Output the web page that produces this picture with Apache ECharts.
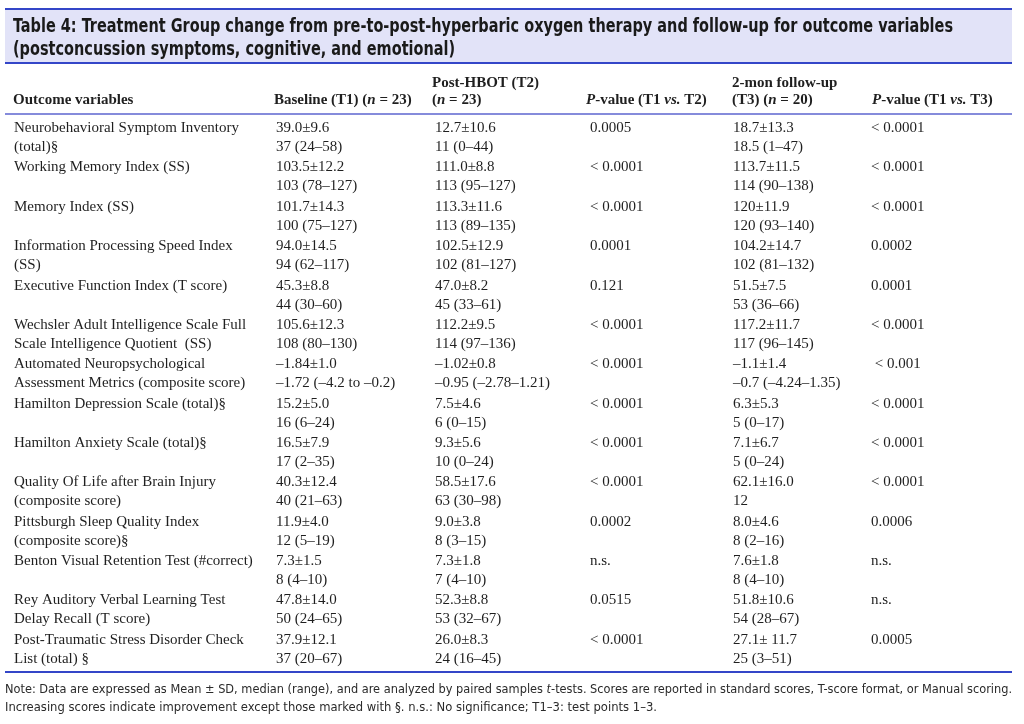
<!DOCTYPE html>
<html><head><meta charset="utf-8">
<script src="https://cdn.jsdelivr.net/npm/echarts@6/dist/echarts.min.js"></script>
<style>html,body{margin:0;padding:0;background:#fff}#c{width:1024px;height:724px}</style>
</head><body><div id="c"></div>
<script>
const titleLines = [
  "Table 4: Treatment Group change from pre-to-post-hyperbaric oxygen therapy and follow-up for outcome variables",
  "(postconcussion symptoms, cognitive, and emotional)"
];
const outcomes = [
  "Neurobehavioral Symptom Inventory\n(total)§",
  "Working Memory Index (SS)",
  "Memory Index (SS)",
  "Information Processing Speed Index\n(SS)",
  "Executive Function Index (T score)",
  "Wechsler Adult Intelligence Scale Full\nScale Intelligence Quotient  (SS)",
  "Automated Neuropsychological\nAssessment Metrics (composite score)",
  "Hamilton Depression Scale (total)§",
  "Hamilton Anxiety Scale (total)§",
  "Quality Of Life after Brain Injury\n(composite score)",
  "Pittsburgh Sleep Quality Index\n(composite score)§",
  "Benton Visual Retention Test (#correct)",
  "Rey Auditory Verbal Learning Test\nDelay Recall (T score)",
  "Post-Traumatic Stress Disorder Check\nList (total) §"
];
const baselineMean = ["39.0±9.6","103.5±12.2","101.7±14.3","94.0±14.5","45.3±8.8","105.6±12.3","–1.84±1.0","15.2±5.0","16.5±7.9","40.3±12.4","11.9±4.0","7.3±1.5","47.8±14.0","37.9±12.1"];
const baselineMedian = ["37 (24–58)","103 (78–127)","100 (75–127)","94 (62–117)","44 (30–60)","108 (80–130)","–1.72 (–4.2 to –0.2)","16 (6–24)","17 (2–35)","40 (21–63)","12 (5–19)","8 (4–10)","50 (24–65)","37 (20–67)"];
const postMean = ["12.7±10.6","111.0±8.8","113.3±11.6","102.5±12.9","47.0±8.2","112.2±9.5","–1.02±0.8","7.5±4.6","9.3±5.6","58.5±17.6","9.0±3.8","7.3±1.8","52.3±8.8","26.0±8.3"];
const postMedian = ["11 (0–44)","113 (95–127)","113 (89–135)","102 (81–127)","45 (33–61)","114 (97–136)","–0.95 (–2.78–1.21)","6 (0–15)","10 (0–24)","63 (30–98)","8 (3–15)","7 (4–10)","53 (32–67)","24 (16–45)"];
const pT1T2 = ["0.0005","< 0.0001","< 0.0001","0.0001","0.121","< 0.0001","< 0.0001","< 0.0001","< 0.0001","< 0.0001","0.0002","n.s.","0.0515","< 0.0001"];
const followMean = ["18.7±13.3","113.7±11.5","120±11.9","104.2±14.7","51.5±7.5","117.2±11.7","–1.1±1.4","6.3±5.3","7.1±6.7","62.1±16.0","8.0±4.6","7.6±1.8","51.8±10.6","27.1± 11.7"];
const followMedian = ["18.5 (1–47)","114 (90–138)","120 (93–140)","102 (81–132)","53 (36–66)","117 (96–145)","–0.7 (–4.24–1.35)","5 (0–17)","5 (0–24)","12","8 (2–16)","8 (4–10)","54 (28–67)","25 (3–51)"];
const pT1T3 = ["< 0.0001","< 0.0001","< 0.0001","0.0002","0.0001","< 0.0001"," < 0.001","< 0.0001","< 0.0001","< 0.0001","0.0006","n.s.","n.s.","0.0005"];
const noteLines = [
  "Note: Data are expressed as Mean ± SD, median (range), and are analyzed by paired samples t-tests. Scores are reported in standard scores, T-score format, or Manual scoring.",
  "Increasing scores indicate improvement except those marked with §. n.s.: No significance; T1–3: test points 1–3."
];

const SERIF = '"Liberation Serif","Times New Roman",serif';
const COND = '"DejaVu Sans Condensed","Liberation Sans Narrow","Arial Narrow",sans-serif';
const TXT = '#1f1f1f';
const colX = [14, 276, 435, 590, 733, 871];
const LH = 19;
const FS = 15;

const mctx = document.createElement('canvas').getContext('2d');
function fitScale(text, font, target) {
  mctx.font = font;
  return target / mctx.measureText(text).width;
}

const chart = echarts.init(document.getElementById('c'), null, {renderer: 'canvas'});

const hdrRich = {
  b: {fontFamily: SERIF, fontSize: FS, fontWeight: 'bold', fill: TXT},
  i: {fontFamily: SERIF, fontSize: FS, fontWeight: 'bold', fontStyle: 'italic', fill: TXT}
};
function hdr(x, y, text) {
  return {type: 'text', x: x, y: y, style: {text: text, rich: hdrRich, fontFamily: SERIF, fontSize: FS, fontWeight: 'bold', fill: TXT, align: 'left', verticalAlign: 'middle'}};
}

const TFS = 20;
const titleFont = 'bold ' + TFS + 'px ' + COND;
const tScale = fitScale(titleLines[0], titleFont, 940);
const noteFont = '13px ' + COND;
const nScale1 = fitScale(noteLines[0], noteFont, 1007);
const nScale2 = fitScale(noteLines[1], noteFont, 652);
const nParts = noteLines[0].split(' t-tests');
const noteRich = {n: {fontFamily: COND, fontSize: 13, fill: '#2a2a2a'}, t: {fontFamily: COND, fontSize: 13, fontStyle: 'italic', fill: '#2a2a2a'}};

const graphics = [
  {type: 'rect', shape: {x: 5, y: 9, width: 1007, height: 54}, style: {fill: '#e2e3f8'}},
  {type: 'line', shape: {x1: 5, y1: 9, x2: 1012, y2: 9}, style: {stroke: '#3446c8', lineWidth: 2}},
  {type: 'line', shape: {x1: 5, y1: 63, x2: 1012, y2: 63}, style: {stroke: '#3446c8', lineWidth: 2}},
  {type: 'line', shape: {x1: 5, y1: 114, x2: 1012, y2: 114}, style: {stroke: '#858bdb', lineWidth: 2}},
  {type: 'line', shape: {x1: 5, y1: 672, x2: 1012, y2: 672}, style: {stroke: '#3446c8', lineWidth: 2}},
  {type: 'text', x: 13, y: 27, scaleX: tScale, style: {text: titleLines[0], fontFamily: COND, fontSize: TFS, fontWeight: 'bold', fill: '#1a1a1a', verticalAlign: 'middle'}},
  {type: 'text', x: 13, y: 50, scaleX: tScale, style: {text: titleLines[1], fontFamily: COND, fontSize: TFS, fontWeight: 'bold', fill: '#1a1a1a', verticalAlign: 'middle'}},
  hdr(13, 100, '{b|Outcome variables}'),
  hdr(274, 100, '{b|Baseline (T1) (}{i|n}{b| = 23)}'),
  hdr(432, 83, '{b|Post-HBOT (T2)}'),
  hdr(432, 100, '{b|(}{i|n}{b| = 23)}'),
  hdr(586, 100, '{i|P}{b|-value (T1 }{i|vs.}{b| T2)}'),
  hdr(732, 83, '{b|2-mon follow-up}'),
  hdr(732, 100, '{b|(T3) (}{i|n}{b| = 20)}'),
  hdr(872, 100, '{i|P}{b|-value (T1 }{i|vs.}{b| T3)}'),
  {type: 'text', x: 5, y: 690, scaleX: nScale1, style: {text: '{n|' + nParts[0] + ' }{t|t}{n|-tests' + nParts[1] + '}',
    rich: noteRich, fontFamily: COND, fontSize: 13, fill: '#2a2a2a', verticalAlign: 'middle'}},
  {type: 'text', x: 5, y: 708, scaleX: nScale2, style: {text: noteLines[1], fontFamily: COND, fontSize: 13, fill: '#2a2a2a', verticalAlign: 'middle'}}
];

const rows = outcomes.map((o, i) => [0, i]);

chart.setOption({
  animation: false,
  grid: {left: 0, right: 0, top: 118, height: 551},
  xAxis: {type: 'value', min: 0, max: 1, show: false},
  yAxis: {type: 'category', data: outcomes.map((o, i) => i), inverse: true, show: false},
  graphic: graphics,
  series: [{
    type: 'custom',
    data: rows,
    silent: true,
    renderItem: function (params, api) {
      const i = api.value(1);
      const c = api.coord([0, i]);
      const cy = c[1];
      const top = cy - LH / 2;
      function t(x, y, text) {
        return {type: 'text', x: x, y: y, style: {text: text, fontFamily: SERIF, fontSize: FS, fill: TXT, align: 'left', verticalAlign: 'middle', lineHeight: LH}};
      }
      return {type: 'group', children: [
        t(colX[0], outcomes[i].indexOf('\n') >= 0 ? cy : top, outcomes[i]),
        t(colX[1], cy, baselineMean[i] + '\n' + baselineMedian[i]),
        t(colX[2], cy, postMean[i] + '\n' + postMedian[i]),
        t(colX[3], top, pT1T2[i]),
        t(colX[4], cy, followMean[i] + '\n' + followMedian[i]),
        t(colX[5], top, pT1T3[i])
      ]};
    }
  }]
});
</script>
</body></html>
